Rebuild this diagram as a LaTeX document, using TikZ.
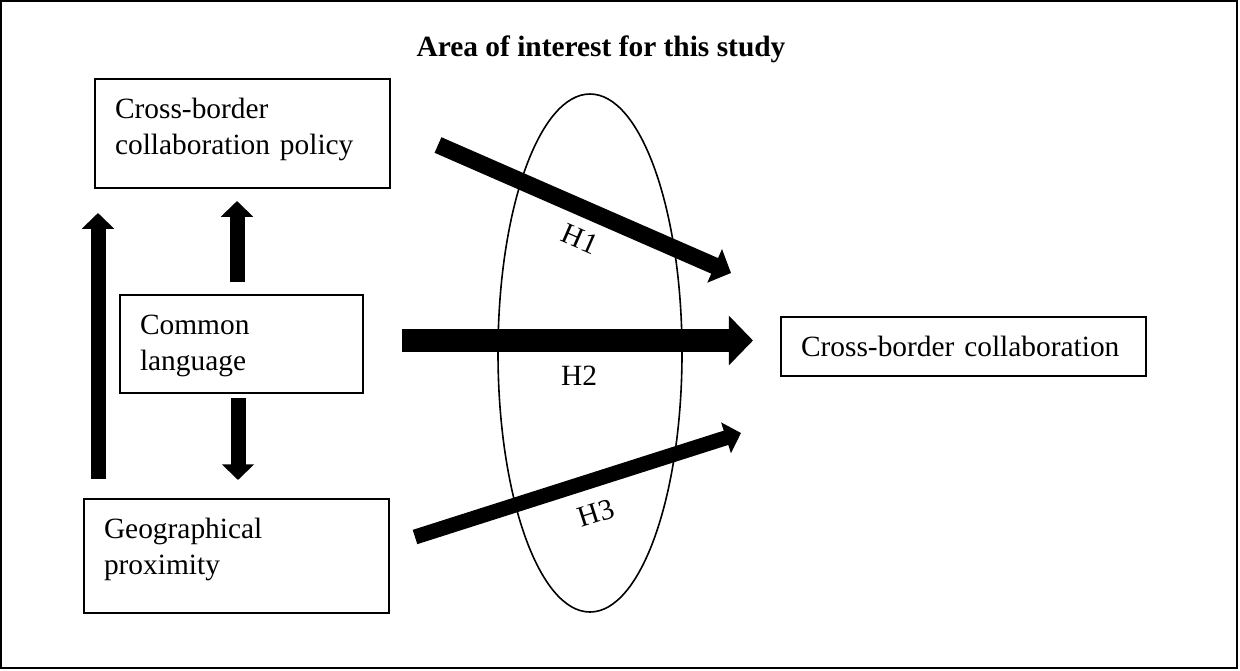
\documentclass[tikz,border=0pt]{standalone}
\usepackage{fontspec}
\setmainfont{Liberation Serif}
\usetikzlibrary{arrows.meta, positioning, shapes.geometric}
\tikzset{
        box/.style={draw, line width=1pt, anchor=north west, align=left,
            inner xsep=10pt, inner ysep=2.5pt, text height=17pt}, % white rectangles, text at the top left
        fatarrow/.style={line width=#1, -{Triangle[length=0pt 1.05, width=0pt 2.1]}}, % black block arrows
        hlabel/.style={inner sep=0pt}, % hypothesis names
    }

\begin{document}
\begin{tikzpicture}[x=0.5pt, y=-0.5pt, every node/.style={font=\fontsize{14.7}{18.4}\selectfont}]
    \useasboundingbox (0,0) rectangle (1240,670);
    \draw[line width=1pt] (1,1) rectangle (1237,668);
    \node[anchor=base] (title) at (601,56) {\textbf{Area of interest for this study}};
    \node[draw, ellipse, line width=0.8pt, minimum width=92pt, minimum height=259pt, inner sep=0pt] (area) at (590,353) {};
    % boxes
    \node[box, text width=127.5pt, text depth=32.5pt] (policy) at (94,78) {Cross-border\\collaboration policy};
    \node[box, text width=101.5pt, text depth=27pt] (language) at (119,294) {Common\\language};
    \node[box, text width=132.5pt, text depth=35pt] (proximity) at (83,498) {Geographical\\proximity};
    \node[box, text width=162.5pt, text depth=7.5pt] (collab) at (780,316) {Cross-border collaboration};
    % arrow ends
    \coordinate (h1s) at (438,145);
    \coordinate (h1e) at (731,273);
    \coordinate (h2s) at (402,340.5);
    \coordinate (h2e) at (753,340.5);
    \coordinate (h3s) at (415,537);
    \coordinate (h3e) at (741,433);
    \coordinate (ups) at (237,282);
    \coordinate (upe) at (237,201);
    \coordinate (downs) at (238,398);
    \coordinate (downe) at (238,480);
    \coordinate (longs) at (98,479);
    \coordinate (longe) at (98,213);
    \draw[fatarrow=8.5pt] (h1s) -- (h1e);
    \draw[fatarrow=11.5pt] (h2s) -- (h2e);
    \draw[fatarrow=7.5pt] (h3s) -- (h3e);
    \draw[fatarrow=7.5pt] (ups) -- (upe);
    \draw[fatarrow=7.5pt] (downs) -- (downe);
    \draw[fatarrow=7.5pt] (longs) -- (longe);
    % hypotheses
    \node[hlabel, rotate=-23.6] (h1) at (580,239) {H1};
    \node[hlabel] (h2) at (579,376) {H2};
    \node[hlabel, rotate=17.7] (h3) at (596,513) {H3};
\end{tikzpicture}
\end{document}
